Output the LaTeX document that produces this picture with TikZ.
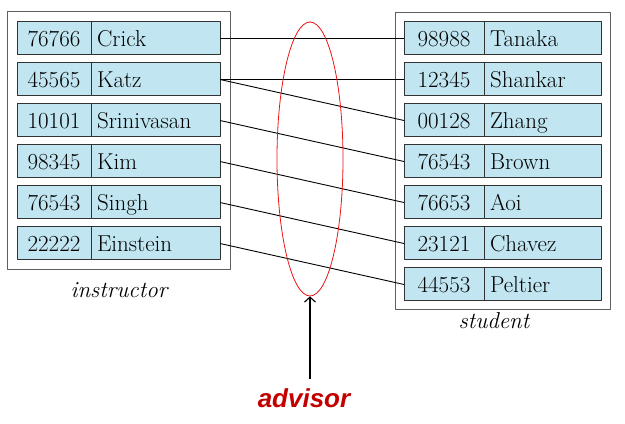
\documentclass[tikz,border=0pt]{standalone}
\usepackage{fontspec}
\newfontfamily\advisorfont{Liberation Sans}
\usetikzlibrary{positioning,fit,shapes.geometric,arrows.meta}
\definecolor{cellfill}{RGB}{193,230,241}
\definecolor{cellline}{RGB}{50,50,50}
\definecolor{boxline}{RGB}{95,95,95}
\definecolor{setred}{RGB}{235,20,20}
\definecolor{advisorred}{RGB}{195,0,0}
\tikzset{
  cell/.style={draw=cellline, fill=cellfill, line width=1bp, outer sep=0bp,
    minimum height=33bp, inner sep=0bp, text height=19bp, text depth=3bp,
    font=\fontsize{23bp}{25bp}\selectfont},
  idcell/.style={cell, minimum width=#1},
  namecell/.style={cell, inner xsep=6bp, text width=#1, align=left},
  tablebox/.style={draw=boxline, line width=1bp, inner sep=10bp},
  tablelabel/.style={anchor=base, font=\fontsize{23bp}{25bp}\selectfont\itshape},
  link/.style={draw=black, line width=0.9bp},
}
\begin{document}
\begin{tikzpicture}[>={Straight Barb[length=5bp,width=11bp]},line join=bevel,]
  \useasboundingbox (0bp,0bp) rectangle (625bp,424bp);
%%
  % Node: instructor rows
  \node[idcell=74bp] (i1) at (54bp,385.5bp) {76766};
  \node[namecell=117bp, right=0bp of i1] (in1) {Crick};
  \node[idcell=74bp] (i2) at (54bp,344.5bp) {45565};
  \node[namecell=117bp, right=0bp of i2] (in2) {Katz};
  \node[idcell=74bp] (i3) at (54bp,303.5bp) {10101};
  \node[namecell=117bp, right=0bp of i3] (in3) {Srinivasan};
  \node[idcell=74bp] (i4) at (54bp,262.5bp) {98345};
  \node[namecell=117bp, right=0bp of i4] (in4) {Kim};
  \node[idcell=74bp] (i5) at (54bp,221.5bp) {76543};
  \node[namecell=117bp, right=0bp of i5] (in5) {Singh};
  \node[idcell=74bp] (i6) at (54bp,180.5bp) {22222};
  \node[namecell=117bp, right=0bp of i6] (in6) {Einstein};
  % Node: instructor
  \node[tablebox, fit=(i1)(in6)] (instructor) {};
  \node[tablelabel] (instructorlbl) at (119bp,126bp) {instructor};
  % Node: student rows
  \node[idcell=80bp] (s1) at (444bp,385.5bp) {98988};
  \node[namecell=105bp, right=0bp of s1] (sn1) {Tanaka};
  \node[idcell=80bp] (s2) at (444bp,344.5bp) {12345};
  \node[namecell=105bp, right=0bp of s2] (sn2) {Shankar};
  \node[idcell=80bp] (s3) at (444bp,303.5bp) {00128};
  \node[namecell=105bp, right=0bp of s3] (sn3) {Zhang};
  \node[idcell=80bp] (s4) at (444bp,262.5bp) {76543};
  \node[namecell=105bp, right=0bp of s4] (sn4) {Brown};
  \node[idcell=80bp] (s5) at (444bp,221.5bp) {76653};
  \node[namecell=105bp, right=0bp of s5] (sn5) {Aoi};
  \node[idcell=80bp] (s6) at (444bp,180.5bp) {23121};
  \node[namecell=105bp, right=0bp of s6] (sn6) {Chavez};
  \node[idcell=80bp] (s7) at (444bp,139.5bp) {44553};
  \node[namecell=105bp, right=0bp of s7] (sn7) {Peltier};
  % Node: student
  \node[tablebox, inner sep=9bp, fit=(s1)(sn7)] (student) {};
  \node[tablelabel] (studentlbl) at (494bp,95bp) {student};
  % Edge: instructor -> student
  \draw[link] (in1.east) -- (s1.west);
  \draw[link] (in2.east) -- (s2.west);
  \draw[link] (in2.east) -- (s3.west);
  \draw[link] (in3.east) -- (s4.west);
  \draw[link] (in4.east) -- (s5.west);
  \draw[link] (in5.east) -- (s6.west);
  \draw[link] (in6.east) -- (s7.west);
  % Node: advisor
  \node[ellipse, draw=setred, line width=0.8bp, minimum width=66bp, minimum height=274bp] (advisorset) at (310bp,265bp) {};
  \node[anchor=base, text=advisorred, font=\advisorfont\fontsize{26bp}{28bp}\selectfont\bfseries\itshape] (advisor) at (304bp,17bp) {advisor};
  \draw[->, line width=1.1bp, shorten <=6bp] (advisor.north -| advisorset.south) -- (advisorset.south);
%
\end{tikzpicture}
\end{document}
